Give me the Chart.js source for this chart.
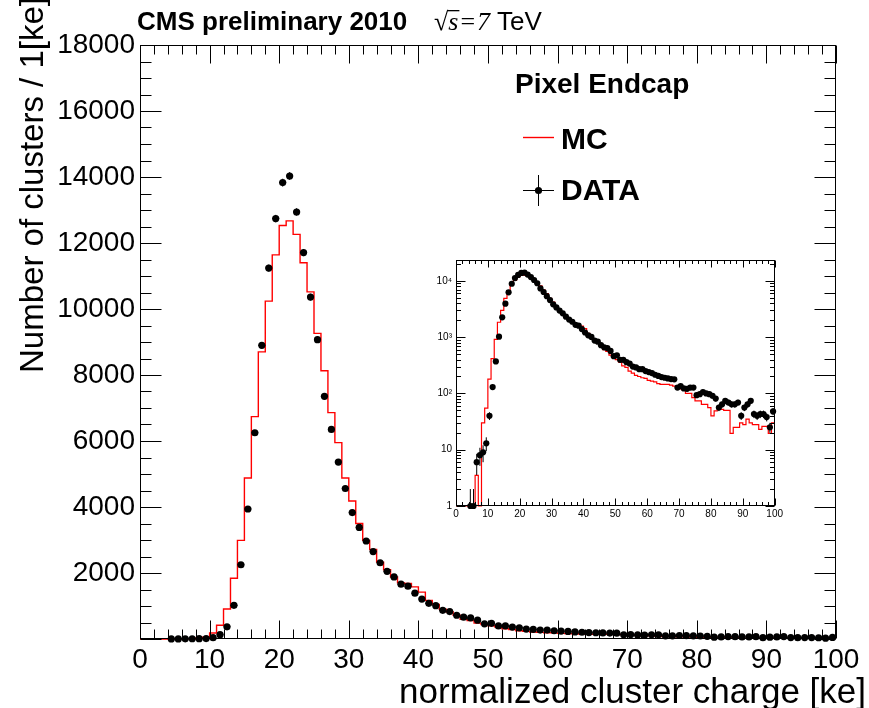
<!DOCTYPE html>
<html>
<head>
<meta charset="utf-8">
<title>Pixel Endcap cluster charge</title>
<script src="https://cdn.jsdelivr.net/npm/chart.js@4/dist/chart.umd.min.js"></script>
<style>
  html, body { margin: 0; padding: 0; background: #fff; }
  #wrap { position: relative; width: 869px; height: 708px; overflow: hidden; }
  #main { position: absolute; left: 0; top: 0; }
  #inset { position: absolute; left: 425px; top: 250px; }
</style>
</head>
<body>
<div id="wrap">
  <canvas id="main" width="869" height="708"></canvas>
  <canvas id="inset" width="360" height="275"></canvas>
</div>
<script>
// 1 ke wide bins, 0..100 ke
const binLow = Array.from({ length: 100 }, (_, i) => i);

// MC histogram content per bin
const mcCounts = [
  0, 0, 0, 0, 0, 0, 3.5, 1, 30, 55,
  180, 415, 910, 1840, 2990, 4880, 6740, 8700, 10240, 11640,
  12530, 12670, 12260, 11400, 10520, 9260, 8130, 6860, 5950, 4880,
  4180, 3500, 2990, 2710, 2330, 2100, 1880, 1700, 1680, 1580,
  1420, 1170, 1050, 900, 820, 720, 600, 560, 480, 440,
  400, 360, 310, 290, 250, 230, 210, 200, 190, 185,
  170, 165, 160, 150, 145, 145, 145, 140, 135, 135,
  120, 115, 100, 100, 84, 74, 74, 64, 64, 56,
  40, 49, 52, 52, 50, 50, 19.5, 25, 25, 30,
  28, 35, 30, 28, 28, 23, 26, 26, 19.5, 30
];

// DATA per bin, null = empty bin
const dataCounts = [
  null, null, null, null, 1, 1, 6, 8, 9, 13,
  40, 130, 370, 1020, 2250, 3940, 6250, 8900, 11240, 12740,
  13830, 14030, 12940, 11710, 10360, 9070, 7355, 6350, 5360, 4560,
  3830, 3380, 2970, 2650, 2310, 2050, 1880, 1660, 1600, 1390,
  1210, 1080, 1010, 870, 830, 720, 660, 640, 570, 460,
  475, 395, 395, 360, 340, 300, 290, 270, 270, 250,
  240, 230, 215, 205, 195, 190, 185, 180, 178, 127,
  135, 123, 121, 127, 127, 93, 97, 106, 100, 97,
  91, 81, 56, 64, 74, 69, 64, 64, 69, 40,
  56, 64, 74, 43, 40, 43, 43, 38, 25, 48
];

const xTicks = [0, 10, 20, 30, 40, 50, 60, 70, 80, 90, 100];
const yTicks = [0, 2000, 4000, 6000, 8000, 10000, 12000, 14000, 16000, 18000];
const insetYTicks = [1, 10, 100, 1000, 10000];
const insetYLabels = ["1", "10", "10²", "10³", "10⁴"];

const FONT = '"Liberation Sans", Arial, Helvetica, sans-serif';

function mcStep(floor) {
  const pts = binLow.map((x, i) => ({ x: x, y: Math.max(mcCounts[i], floor) }));
  pts.push({ x: 100, y: Math.max(mcCounts[99], floor) });
  return pts;
}

function dataPts() {
  const pts = [];
  binLow.forEach((x, i) => {
    if (dataCounts[i] !== null) pts.push({ x: x + 0.5, y: dataCounts[i] });
  });
  return pts;
}

// poisson error bars + bin width bars on the DATA points
const errorBars = {
  id: 'errorBars',
  afterDatasetsDraw(chart) {
    const { ctx, scales: { x, y } } = chart;
    const ds = chart.data.datasets.find(d => d.label === 'DATA');
    ctx.save();
    ctx.strokeStyle = '#000';
    ctx.lineWidth = 1;
    ctx.beginPath();
    ds.data.forEach(p => {
      const px = x.getPixelForValue(p.x);
      const py = y.getPixelForValue(p.y);
      const e = Math.sqrt(p.y);
      ctx.moveTo(x.getPixelForValue(p.x - 0.5), py);
      ctx.lineTo(x.getPixelForValue(p.x + 0.5), py);
      ctx.moveTo(px, y.getPixelForValue(Math.max(p.y - e, y.min)));
      ctx.lineTo(px, y.getPixelForValue(p.y + e));
    });
    ctx.stroke();
    ctx.restore();
  }
};

// ROOT style frame with inward ticks on all four sides
function framePlugin(o) {
  return {
    id: 'frame',
    afterDraw(chart) {
      const { ctx, chartArea: a, scales: { x, y } } = chart;
      const L = Math.round(a.left) + 0.5, R = Math.round(a.right) - 0.5;
      const T = Math.round(a.top) + 0.5, B = Math.round(a.bottom) - 0.5;
      ctx.save();
      ctx.strokeStyle = '#000';
      ctx.lineWidth = 1;
      ctx.strokeRect(L, T, R - L, B - T);
      ctx.beginPath();
      o.xMinor.forEach(v => {
        const len = o.xMajor.includes(v) ? o.xMajorLen : o.xMinorLen;
        const px = Math.round(x.getPixelForValue(v)) + 0.5;
        ctx.moveTo(px, B); ctx.lineTo(px, B - len);
        ctx.moveTo(px, T); ctx.lineTo(px, T + len);
      });
      o.yMinor.forEach(v => {
        const len = o.yMajor.includes(v) ? o.yMajorLen : o.yMinorLen;
        const py = Math.round(y.getPixelForValue(v)) + 0.5;
        ctx.moveTo(L, py); ctx.lineTo(L + len, py);
        ctx.moveTo(R, py); ctx.lineTo(R - len, py);
      });
      ctx.stroke();
      ctx.restore();
    }
  };
}

const mainText = {
  id: 'mainText',
  afterDraw(chart) {
    const ctx = chart.ctx;
    ctx.save();
    ctx.fillStyle = '#000';
    ctx.textBaseline = 'alphabetic';

    // header
    ctx.font = 'bold 26px ' + FONT;
    ctx.fillText('CMS preliminary 2010', 137, 30);
    let cx = 434;
    ctx.font = '26px "Liberation Serif", serif';
    ctx.fillText('√', cx, 30);
    cx += ctx.measureText('√').width;
    ctx.font = 'italic 26px "Liberation Serif", serif';
    const ws = ctx.measureText('s').width;
    ctx.fillText('s', cx, 30);
    ctx.fillRect(cx - 1, 10, ws + 2, 1.3);
    cx += ws + 2;
    ctx.font = '26px "Liberation Serif", serif';
    ctx.fillText('=', cx, 30);
    cx += ctx.measureText('=').width + 2;
    ctx.font = 'italic 26px "Liberation Serif", serif';
    ctx.fillText('7', cx, 30);
    cx += ctx.measureText('7').width + 7;
    ctx.font = '26px ' + FONT;
    ctx.fillText('TeV', cx, 30);

    // legend
    ctx.font = 'bold 28px ' + FONT;
    ctx.fillText('Pixel Endcap', 515, 93);
    ctx.strokeStyle = '#ff0000';
    ctx.lineWidth = 1.4;
    ctx.beginPath();
    ctx.moveTo(523, 137.5); ctx.lineTo(554, 137.5);
    ctx.stroke();
    ctx.strokeStyle = '#000';
    ctx.lineWidth = 1;
    ctx.beginPath();
    ctx.moveTo(523, 190.5); ctx.lineTo(554, 190.5);
    ctx.moveTo(538.5, 175); ctx.lineTo(538.5, 206);
    ctx.stroke();
    ctx.beginPath();
    ctx.arc(538.5, 190.5, 3.6, 0, Math.PI * 2);
    ctx.fill();
    ctx.font = 'bold 30px ' + FONT;
    ctx.fillText('MC', 561, 149);
    ctx.fillText('DATA', 561, 200);

    // axis titles
    ctx.font = '35px ' + FONT;
    ctx.textAlign = 'right';
    ctx.fillText('normalized cluster charge [ke]', 866, 703);
    ctx.translate(43, 373);
    ctx.rotate(-Math.PI / 2);
    ctx.textAlign = 'left';
    ctx.font = '33px ' + FONT;
    ctx.fillText('Number of clusters / 1[ke]', 0, 0);
    ctx.restore();
  }
};

const xMinorTicks = Array.from({ length: 51 }, (_, i) => i * 2);
const yMinorTicks = Array.from({ length: 37 }, (_, i) => i * 500);

new Chart(document.getElementById('main'), {
  type: 'scatter',
  data: {
    datasets: [
      { type: 'line', label: 'MC', data: mcStep(0), stepped: true, borderColor: '#ff0000',
        borderWidth: 1.4, pointRadius: 0, fill: false, clip: false, order: 2 },
      { label: 'DATA', data: dataPts(), pointRadius: 3.6, pointBackgroundColor: '#000',
        pointBorderColor: '#000', pointBorderWidth: 0, clip: false, order: 1 }
    ]
  },
  options: {
    responsive: false,
    animation: false,
    events: [],
    layout: { padding: { top: 45, right: 33, left: 0, bottom: 0 } },
    plugins: { legend: { display: false }, tooltip: { enabled: false } },
    scales: {
      x: {
        type: 'linear', min: 0, max: 100,
        grid: { display: false, drawTicks: false }, border: { display: false },
        afterBuildTicks: s => { s.ticks = xTicks.map(v => ({ value: v })); },
        afterFit: s => { s.height = 69; },
        ticks: { padding: 4, color: '#000', maxRotation: 0, autoSkip: false,
                 font: { family: FONT, size: 28 }, callback: v => String(v) }
      },
      y: {
        type: 'linear', min: 0, max: 18000,
        grid: { display: false, drawTicks: false }, border: { display: false },
        afterBuildTicks: s => { s.ticks = yTicks.map(v => ({ value: v })); },
        afterFit: s => { s.width = 140; },
        ticks: { padding: 5, color: '#000', autoSkip: false,
                 font: { family: FONT, size: 28 }, callback: v => (v === 0 ? '' : String(v)) }
      }
    }
  },
  plugins: [errorBars, framePlugin({
    xMajor: xTicks, xMinor: xMinorTicks, xMajorLen: 18, xMinorLen: 9,
    yMajor: yTicks, yMinor: yMinorTicks, yMajorLen: 21, yMinorLen: 11
  }), mainText]
});

// inset, log scale
const insetYMinor = [];
insetYTicks.forEach(d => {
  for (let m = 1; m <= 9; m++) if (m * d <= 23500) insetYMinor.push(m * d);
});

new Chart(document.getElementById('inset'), {
  type: 'scatter',
  data: {
    datasets: [
      { type: 'line', label: 'MC', data: mcStep(1), stepped: true, borderColor: '#ff0000',
        borderWidth: 1.2, pointRadius: 0, fill: false, clip: false, order: 2 },
      { label: 'DATA', data: dataPts(), pointRadius: 3.1, pointBackgroundColor: '#000',
        pointBorderColor: '#000', pointBorderWidth: 0, clip: false, order: 1 }
    ]
  },
  options: {
    responsive: false,
    animation: false,
    events: [],
    layout: { padding: { top: 8, right: 10, left: 0, bottom: 0 } },
    plugins: { legend: { display: false }, tooltip: { enabled: false } },
    scales: {
      x: {
        type: 'linear', min: 0, max: 100,
        grid: { display: false, drawTicks: false }, border: { display: false },
        afterBuildTicks: s => { s.ticks = xTicks.map(v => ({ value: v })); },
        afterFit: s => { s.height = 19; },
        ticks: { padding: 2, color: '#000', maxRotation: 0, autoSkip: false,
                 font: { family: FONT, size: 10 }, callback: v => String(v) }
      },
      y: {
        type: 'logarithmic', min: 1, max: 23500,
        grid: { display: false, drawTicks: false }, border: { display: false },
        afterBuildTicks: s => { s.ticks = insetYTicks.map(v => ({ value: v })); },
        afterFit: s => { s.width = 31; },
        ticks: { padding: 4, color: '#000', autoSkip: false,
                 font: { family: FONT, size: 10 }, callback: (v, i) => insetYLabels[i] }
      }
    }
  },
  plugins: [errorBars, framePlugin({
    xMajor: xTicks, xMinor: xMinorTicks, xMajorLen: 7, xMinorLen: 3.5,
    yMajor: insetYTicks, yMinor: insetYMinor, yMajorLen: 9, yMinorLen: 4.5
  })]
});
</script>
</body>
</html>
